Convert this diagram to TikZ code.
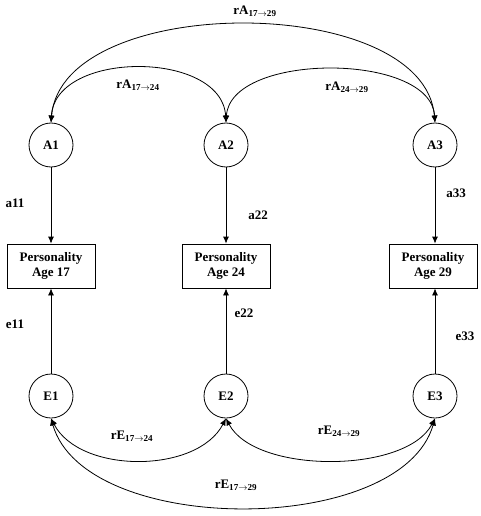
\documentclass[tikz,border=0pt]{standalone}
\usepackage{fontspec}
\setmainfont{Liberation Serif}
\usetikzlibrary{arrows.meta}

\begin{document}
\begin{tikzpicture}[x=1pt,y=-1pt]
\tikzstyle{every node}=[font=\fontsize{13}{15}\selectfont\bfseries]
\tikzstyle{latent}=[draw,circle,minimum size=44pt,inner sep=0pt,line width=0.8pt]
\tikzstyle{observed}=[draw,rectangle,minimum width=88pt,minimum height=44pt,align=center,inner sep=2pt,line width=0.8pt]
\tikzstyle{regline}=[-{Latex[length=7pt,width=6pt]},line width=0.8pt]
\tikzstyle{covline}=[{Latex[length=7pt,width=6pt]}-{Latex[length=7pt,width=6pt]},line width=0.8pt]

\useasboundingbox (0,0) rectangle (480,516);

\node[latent] (A1) at (51,145) {A1};
\node[latent] (A2) at (226,145) {A2};
\node[latent] (A3) at (435,145) {A3};

\node[observed] (P1) at (51,266) {Personality\\Age 17};
\node[observed] (P2) at (226,266) {Personality\\Age 24};
\node[observed] (P3) at (433,266) {Personality\\Age 29};

\node[latent] (E1) at (51,396) {E1};
\node[latent] (E2) at (226,396) {E2};
\node[latent] (E3) at (435,396) {E3};

\draw[regline] (A1) -- (P1);
\draw[regline] (A2) -- (P2);
\draw[regline] (A3) -- (P3.north -| A3);
\draw[regline] (E1) -- (P1);
\draw[regline] (E2) -- (P2);
\draw[regline] (E3) -- (P3.south -| E3);

\draw[covline] (A1.north) .. controls (55,50) and (222,50) .. (A2.north);
\draw[covline] (A2.north) .. controls (230,52) and (431,52) .. (A3.north);
\draw[covline] (A1.north) .. controls (62,-8) and (424,-8) .. (A3.north);

\draw[covline] (E1.south) .. controls (80,474) and (197,474) .. (E2.south);
\draw[covline] (E2.south) .. controls (255,474) and (406,474) .. (E3.south);
\draw[covline] (E1.south) .. controls (85,537) and (401,537) .. (E3.south);

\node (lA13) at (255,11) {rA\textsubscript{17$\rightarrow$29}};
\node (lA12) at (138,85) {rA\textsubscript{17$\rightarrow$24}};
\node (lA23) at (347,87) {rA\textsubscript{24$\rightarrow$29}};
\node (lE12) at (132,436) {rE\textsubscript{17$\rightarrow$24}};
\node (lE23) at (339,431) {rE\textsubscript{24$\rightarrow$29}};
\node (lE13) at (236,485) {rE\textsubscript{17$\rightarrow$29}};

\node (a11) at (15,203) {a11};
\node (a22) at (258,215) {a22};
\node (a33) at (456,193) {a33};
\node (e11) at (15,324) {e11};
\node (e22) at (244,313) {e22};
\node (e33) at (465,336) {e33};
\end{tikzpicture}
\end{document}
